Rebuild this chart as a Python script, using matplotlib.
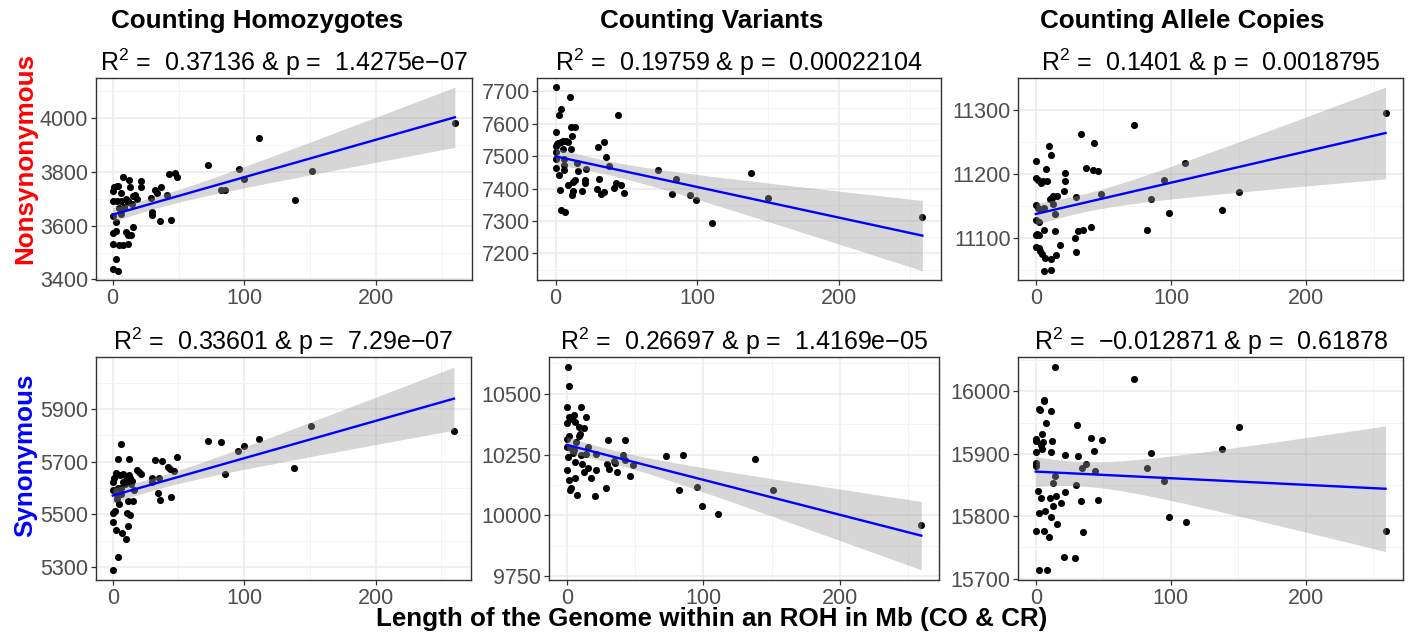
import numpy as np
import matplotlib.pyplot as plt

plt.rcParams['font.family'] = ['Liberation Sans', 'DejaVu Sans']
plt.rcParams['mathtext.default'] = 'regular'

# ---- data (x = Mb of genome in ROH) ----
hom_nonsyn_x = [259.6, 111, 72.7, 95.5, 99.5, 151, 138, 82, 85.6, 43, 47, 49, 37, 32, 34, 41, 29, 30, 30, 36,
                44, 21.5, 21.5, 18.7, 15.4, 14.4, 12.6, 13, 8, 3.3, 0, 6.3, 0, 3.3, 6.5, 5, 8.3, 11.4, 0, 6.5,
                2.3, 15.4, 10, 11.4, 13.6, 0, 2.5, 0, 5, 7.6, 11.4, 2.8, 0, 3.8, 4, 10, 17, 12, 9, 1]
hom_nonsyn_y = [3981, 3924, 3824, 3812, 3774, 3801, 3696, 3731, 3731, 3790, 3794, 3782, 3742, 3731, 3721, 3715,
                3701, 3652, 3641, 3616, 3621, 3765, 3744, 3699, 3711, 3681, 3771, 3742, 3780, 3746, 3730, 3721,
                3692, 3690, 3690, 3665, 3665, 3686, 3637, 3642, 3612, 3594, 3575, 3565, 3565, 3574, 3580, 3530,
                3527, 3527, 3530, 3477, 3440, 3432, 3746, 3700, 3712, 3690, 3668, 3745]

var_nonsyn_x = [0, 10.3, 3.8, 2.6, 43.7, 11, 13.4, 0, 11.5, 0, 0, 1.9, 3.8, 5.4, 7.3, 4.9, 11, 34, 30, 35.5,
                0, 0, 6, 6, 15, 6, 15.7, 21.6, 37.6, 2.6, 72.4, 85.3, 137.7, 150, 13.6, 12.5, 21, 21, 30.5, 42.8,
                46, 41, 8.5, 2.8, 12, 11.5, 18.3, 29.4, 32, 34.5, 48.6, 82.3, 95, 99, 110.7, 3.8, 6.3, 259, 1, 9]
var_nonsyn_y = [7713, 7682, 7645, 7628, 7628, 7589, 7590, 7575, 7563, 7531, 7513, 7541, 7543, 7546, 7548, 7523,
                7521, 7543, 7528, 7497, 7491, 7464, 7490, 7474, 7480, 7456, 7453, 7460, 7469, 7443, 7456, 7431,
                7448, 7370, 7427, 7421, 7425, 7417, 7429, 7418, 7412, 7402, 7410, 7395, 7392, 7380, 7392, 7399,
                7384, 7389, 7387, 7382, 7380, 7364, 7295, 7333, 7328, 7313, 7537, 7545]

all_nonsyn_x = [258.7, 72.3, 33.7, 43.4, 10, 11.4, 0, 37.4, 42.5, 46, 7.3, 21.4, 21.4, 110.7, 95, 0, 2, 4, 8, 5,
                20.6, 29.6, 48.5, 150.5, 85, 137.9, 98.8, 10.4, 13, 15.8, 13, 0, 1.7, 6.3, 14, 0, 2.4, 41, 31,
                34.7, 5.8, 14, 82, 0, 2.7, 29, 0, 2.4, 3.4, 4.9, 6.8, 18, 15, 11, 30, 5.8, 10.9, 12, 3, 1]
all_nonsyn_y = [11295, 11277, 11262, 11248, 11244, 11230, 11220, 11209, 11206, 11204, 11208, 11201, 11189, 11217,
                11191, 11193, 11190, 11185, 11188, 11189, 11173, 11164, 11168, 11171, 11160, 11143, 11138, 11161,
                11165, 11165, 11153, 11151, 11146, 11146, 11137, 11127, 11124, 11117, 11111, 11112, 11112, 11110,
                11112, 11104, 11104, 11099, 11086, 11083, 11079, 11074, 11068, 11088, 11073, 11066, 11077, 11048,
                11050, 11162, 11145, 11105]

hom_syn_x = [259.6, 151, 111, 99.5, 95.5, 72.7, 82.3, 138, 85.6, 49, 32, 37.6, 41.7, 43.7, 46.7, 6.6, 4, 12.4,
             18.4, 21.7, 30, 35, 30, 34.3, 36, 44, 2.8, 5.8, 13.4, 10.4, 7.6, 14, 16, 0, 0, 3.3, 6.6, 11.6, 15.4,
             4.8, 0, 2, 10.9, 13.4, 0, 2.8, 7, 11.4, 10.4, 4, 0, 8, 12, 4, 9, 1, 15, 3, 6, 20]
hom_syn_y = [5816, 5837, 5785, 5758, 5740, 5779, 5773, 5676, 5653, 5717, 5707, 5702, 5680, 5672, 5665, 5766, 5712,
             5712, 5669, 5653, 5637, 5640, 5624, 5583, 5555, 5565, 5658, 5649, 5640, 5630, 5623, 5614, 5593, 5623,
             5593, 5575, 5577, 5551, 5551, 5538, 5504, 5512, 5507, 5497, 5473, 5441, 5430, 5457, 5406, 5337, 5290,
             5655, 5650, 5600, 5615, 5640, 5625, 5560, 5600, 5660]

var_syn_x = [2, 0, 10.5, 2, 5.6, 3.9, 6.3, 14, 0, 9, 12.7, 10, 0, 1.7, 8.8, 0, 3, 5, 15.4, 4.4, 10.5, 14, 21.5,
             30, 43, 5.9, 11.5, 15.4, 12.7, 0, 21.5, 18, 5.9, 2, 3.4, 2.7, 7.6, 20.5, 29, 29.8, 31.2, 34.4, 35, 37,
             41, 42.4, 48.5, 46, 72.4, 85, 138, 82, 95, 150.7, 98.8, 110.7, 259.5, 7, 1, 1]
var_syn_y = [10534, 10447, 10447, 10406, 10412, 10398, 10384, 10406, 10379, 10362, 10359, 10334, 10315, 10327,
             10327, 10280, 10276, 10270, 10280, 10256, 10249, 10253, 10251, 10308, 10308, 10219, 10209, 10196,
             10176, 10185, 10185, 10154, 10155, 10145, 10111, 10102, 10083, 10081, 10112, 10213, 10192, 10223,
             10216, 10180, 10249, 10227, 10206, 10162, 10242, 10249, 10230, 10105, 10115, 10105, 10040, 10006,
             9960, 10300, 10240, 10610]

all_syn_x = [6, 6, 2.2, 2.9, 11.4, 7.3, 30.4, 150.4, 4.6, 0, 0, 12.2, 41, 48.7, 5.4, 3.6, 4.9, 0, 11, 21.4, 31.6,
             42.8, 85.6, 138.2, 0, 0, 37.2, 34.5, 43.6, 82.2, 14, 13, 30, 95, 1.7, 21.7, 3.6, 10.5, 15.3, 18.5,
             33.8, 46.2, 12.7, 6.6, 2.4, 11.4, 15.6, 99, 110.9, 0, 6.3, 35.3, 9.7, 259, 20.7, 29.2, 2.4, 8, 14.1,
             72.9]
all_syn_y = [15987, 15985, 15972, 15970, 15969, 15949, 15946, 15943, 15932, 15924, 15920, 15921, 15925, 15922,
             15919, 15914, 15907, 15903, 15903, 15898, 15897, 15905, 15901, 15907, 15885, 15881, 15883, 15877,
             15873, 15878, 15864, 15853, 15850, 15856, 15840, 15839, 15830, 15830, 15832, 15821, 15825, 15826,
             15817, 15809, 15805, 15799, 15788, 15798, 15791, 15776, 15776, 15774, 15767, 15776, 15735, 15733,
             15714, 15714, 16039, 16020]

col_titles = ['Counting Homozygotes', 'Counting Variants', 'Counting Allele Copies']
row_labels = ['Nonsynonymous', 'Synonymous']
row_colors = ['red', 'blue']
r2_values = [['0.37136', '0.19759', '0.1401'], ['0.33601', '0.26697', '\u22120.012871']]
p_values = [['1.4275e\u221207', '0.00022104', '0.0018795'], ['7.29e\u221207', '1.4169e\u221205', '0.61878']]
x_ticks = [0, 100, 200]
y_ticks = [[[3400, 3600, 3800, 4000], [7200, 7300, 7400, 7500, 7600, 7700], [11100, 11200, 11300]],
           [[5300, 5500, 5700, 5900], [9750, 10000, 10250, 10500], [15700, 15800, 15900, 16000]]]
xlabel = 'Length of the Genome within an ROH in Mb (CO & CR)'

panels = [[(hom_nonsyn_x, hom_nonsyn_y), (var_nonsyn_x, var_nonsyn_y), (all_nonsyn_x, all_nonsyn_y)],
          [(hom_syn_x, hom_syn_y), (var_syn_x, var_syn_y), (all_syn_x, all_syn_y)]]

W, H = 1411, 634
# axes boxes in pixels: left, right, top, bottom
boxes = [[(95.5, 472, 78, 280), (537.3, 940.7, 78, 280), (1018.3, 1403, 78, 280)],
         [(95.7, 471, 357, 580), (549, 939, 357, 580), (1018.3, 1403, 357, 580)]]


def lm_fit(x, y, n_out=80):
    # ordinary least squares with a 95% confidence band, like geom_smooth(method = "lm")
    x = np.asarray(x, float)
    y = np.asarray(y, float)
    n = len(x)
    xm, ym = x.mean(), y.mean()
    sxx = np.sum((x - xm) ** 2)
    b = np.sum((x - xm) * (y - ym)) / sxx
    a = ym - b * xm
    s2 = np.sum((y - a - b * x) ** 2) / (n - 2)
    df = n - 2
    z = 1.959964
    t = z + (z**3 + z) / (4 * df) + (5 * z**5 + 16 * z**3 + 3 * z) / (96 * df**2)
    xs = np.linspace(x.min(), x.max(), n_out)
    fit = a + b * xs
    se = np.sqrt(s2 * (1 / n + (xs - xm) ** 2 / sxx))
    return xs, fit, fit - t * se, fit + t * se


fig = plt.figure(figsize=(W / 100, H / 100), dpi=100)

for r in range(2):
    for c in range(3):
        l, rr, t, b = boxes[r][c]
        ax = fig.add_axes([l / W, 1 - b / H, (rr - l) / W, (b - t) / H])
        x, y = panels[r][c]
        ax.scatter(x, y, s=26, color='black', linewidths=0, zorder=2)
        xs, fit, lo, hi = lm_fit(x, y)
        ax.fill_between(xs, lo, hi, color='#999999', alpha=0.4, linewidth=0, zorder=3)
        ax.plot(xs, fit, color='blue', lw=1.7, zorder=4)

        xlim = ax.get_xlim()
        ylim = ax.get_ylim()
        yt = y_ticks[r][c]
        step = yt[1] - yt[0]
        ax.set_xticks(x_ticks)
        ax.set_xticks([50, 150, 250], minor=True)
        ax.set_yticks(yt)
        ym = np.arange(yt[0] - step / 2, yt[-1] + step, step)
        ax.set_yticks([v for v in ym if ylim[0] <= v <= ylim[1]], minor=True)
        ax.set_xlim(xlim)
        ax.set_ylim(ylim)

        ax.set_axisbelow(True)
        ax.grid(which='major', color='#EBEBEB', lw=1.1)
        ax.grid(which='minor', color='#F2F2F2', lw=0.6)
        for sp in ax.spines.values():
            sp.set_color('#333333')
            sp.set_linewidth(1.0)
        ax.tick_params(which='major', length=3.5, width=0.9, color='#333333',
                       labelsize=15.5, labelcolor='#4D4D4D', pad=2)
        ax.tick_params(which='minor', length=0)

        ax.set_title('R$^2$ =  ' + r2_values[r][c] + ' & p =  ' + p_values[r][c],
                     fontsize=18, pad=5)

title_x = [257, 712, 1182]
for c in range(3):
    fig.text(title_x[c] / W, 1 - 21 / H, col_titles[c], fontsize=18.7, fontweight='bold',
             ha='center', va='center')

row_y = [158, 455]
for r in range(2):
    fig.text(25 / W, 1 - row_y[r] / H, row_labels[r], fontsize=18.7, fontweight='bold',
             color=row_colors[r], rotation=90, ha='center', va='center')

fig.text(712 / W, 1 - 619 / H, xlabel, fontsize=18.7, fontweight='bold', ha='center', va='center')

fig.savefig('out.png', dpi=100)
